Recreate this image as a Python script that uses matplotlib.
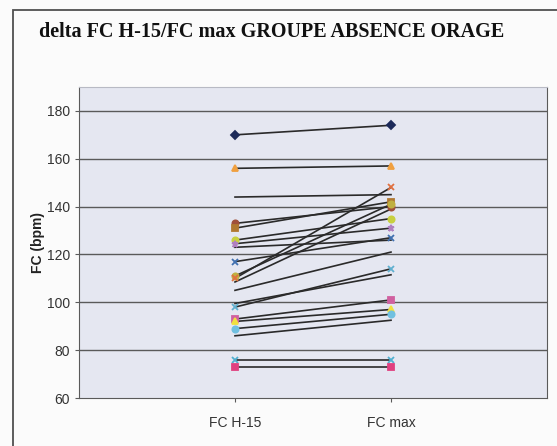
import matplotlib
matplotlib.use("Agg")
import matplotlib.pyplot as plt
from matplotlib.patches import Rectangle

# Heart rate 15 min before vs max, one line per subject
categories = ["FC H-15", "FC max"]
fc_h15 = [170, 156, 144, 133, 131, 126, 124.5, 123, 117, 111, 110, 108.5,
          105, 99.5, 98, 93, 92, 89, 86, 76, 73]
fc_max = [174, 157, 145, 140, 142, 135, 131, 126, 127, 141, 148, 139,
          121, 111.5, 114, 101, 97, 95, 92.5, 76, 73]
marker_colors = ["#1c2a5a", "#f0a040", "none", "#a0503a", "#b07830", "#c8d040",
                 "#b080c0", "none", "#4070b0", "#c0b040", "#e07040", "none",
                 "none", "none", "#60b0d0", "#d060a0", "#f0e040", "#70c0e0",
                 "none", "#50b0d0", "#e04080"]
marker_shapes = ["D", "^", "o", "o", "s", "o", "*", "o", "x", "o", "x", "o",
                 "o", "o", "x", "s", "^", "o", "o", "x", "s"]

fig = plt.figure(figsize=(5.57, 4.46), dpi=100)
fig.patch.set_facecolor("#fbfbfb")

# outer chart frame (runs off the right and bottom of the picture)
fig.patches.append(Rectangle((13 / 557, -0.1), 1.1, 1.1 - 10 / 446,
                             transform=fig.transFigure, fill=False,
                             edgecolor="#505050", linewidth=1.3))

ax = fig.add_axes([79 / 557, 1 - 398 / 446, 468 / 557, 311 / 446])
ax.set_facecolor("#e5e7f1")

xs = [1, 2]
for a, b, c, m in zip(fc_h15, fc_max, marker_colors, marker_shapes):
    ax.plot(xs, [a, b], color="#2a2a2a", linewidth=1.2, zorder=3)
    if c != "none":
        ax.plot(xs, [a, b], linestyle="none", marker=m, markersize=4.5,
                color=c, markeredgecolor=c, markeredgewidth=1.3, zorder=4)

ax.set_xlim(0, 3)
ax.set_ylim(60, 190)
ax.set_yticks(range(60, 181, 20))
ax.set_xticks(xs)
ax.set_xticklabels(categories)
for y in range(80, 181, 20):
    ax.axhline(y, color="#5a5a5a", linewidth=1.0, zorder=1)

for s in ["left", "bottom", "right"]:
    ax.spines[s].set_color("#5a5a5a")
ax.spines["top"].set_color("#b8bac4")
ax.tick_params(axis="both", direction="out", length=3, color="#5a5a5a",
               labelsize=10, labelcolor="#333333")
ax.tick_params(axis="x", pad=10)
for lab in ax.get_xticklabels() + ax.get_yticklabels():
    lab.set_family("Liberation Sans")

ax.set_ylabel("FC (bpm)", family="Liberation Sans", fontweight="bold",
              fontsize=10, color="#222222", labelpad=1)

fig.text(0.487, 1 - 32 / 446, "delta FC H-15/FC max GROUPE ABSENCE ORAGE",
         family="Liberation Serif", fontweight="bold", fontsize=14.5,
         ha="center", va="center", color="#111111")

fig.savefig("out.png", dpi=100, facecolor=fig.get_facecolor())
